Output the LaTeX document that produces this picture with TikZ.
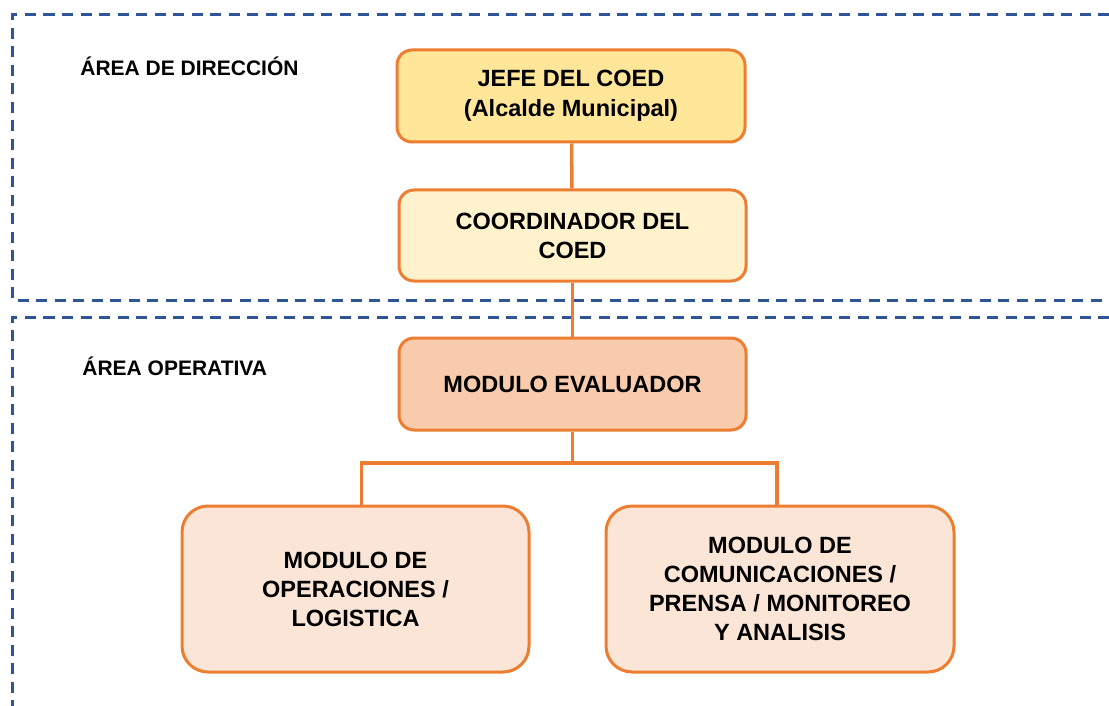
\documentclass[tikz,border=0pt]{standalone}
\usepackage{fontspec}
\setmainfont{Liberation Sans}

\definecolor{bordeNaranja}{RGB}{237,125,49}
\definecolor{lineaAzul}{RGB}{47,85,151}
\definecolor{rellenoJefe}{RGB}{255,230,153}
\definecolor{rellenoCoord}{RGB}{255,242,204}
\definecolor{rellenoEval}{RGB}{248,203,173}
\definecolor{rellenoModulo}{RGB}{251,229,214}

\tikzset{every picture/.style={line width=0.75pt}}
\tikzset{
  caja/.style={draw=bordeNaranja, line width=3pt, rounded corners=15pt,
    align=center, inner sep=0pt, minimum width=347pt, minimum height=92pt,
    font=\fontsize{23.5}{29}\selectfont\bfseries},
  cajamodulo/.style={caja, fill=rellenoModulo, rounded corners=26pt, minimum height=166pt},
  conector/.style={draw=bordeNaranja, line width=3.5pt},
  limite/.style={draw=lineaAzul, line width=3pt, dash pattern=on 11pt off 7.5pt},
  rotulo/.style={anchor=west, inner sep=0pt, font=\fontsize{21}{25}\selectfont\bfseries}
}

\begin{document}
\begin{tikzpicture}[x=1pt,y=1pt,yscale=-1,xscale=1]
\useasboundingbox (0,0) rectangle (1109,706);

%Area limits
\draw [limite] (1109,15) -- (12,15) -- (12,300) -- (1109,300) ;
\draw [limite] (1109,317) -- (12,317) -- (12,706) ;

% Text Node
\node [rotulo] (direccion) at (80,66) {ÁREA DE DIRECCIÓN};
% Text Node
\node [rotulo] (operativa) at (82,366) {ÁREA OPERATIVA};

% Boxes
\node [caja, fill=rellenoJefe, minimum width=348pt, font=\fontsize{23.5}{30}\selectfont\bfseries] (jefe) at (571,96) {JEFE DEL COED\\(Alcalde Municipal)};
\node [caja, fill=rellenoCoord, minimum height=91pt] (coordinador) at (572.5,235.5) {COORDINADOR DEL\\COED};
\node [caja, fill=rellenoEval] (evaluador) at (572.5,384) {MODULO EVALUADOR};
\node [cajamodulo] (operaciones) at (355.5,589) {MODULO DE\\OPERACIONES /\\LOGISTICA};
\node [cajamodulo, minimum width=348pt] (comunicaciones) at (780,589) {MODULO DE\\COMUNICACIONES /\\PRENSA / MONITOREO\\Y ANALISIS};

%Straight Lines
\draw [conector] (jefe) -- (coordinador) ;
\draw [conector] (coordinador) -- (evaluador) ;
\coordinate (rama) at (572.5,463) ;
\draw [conector] (evaluador) -- (rama) ;
\draw [conector] (rama) -| ([xshift=6pt]operaciones.north) ;
\draw [conector] (rama) -| ([xshift=-3pt]comunicaciones.north) ;

\end{tikzpicture}
\end{document}
